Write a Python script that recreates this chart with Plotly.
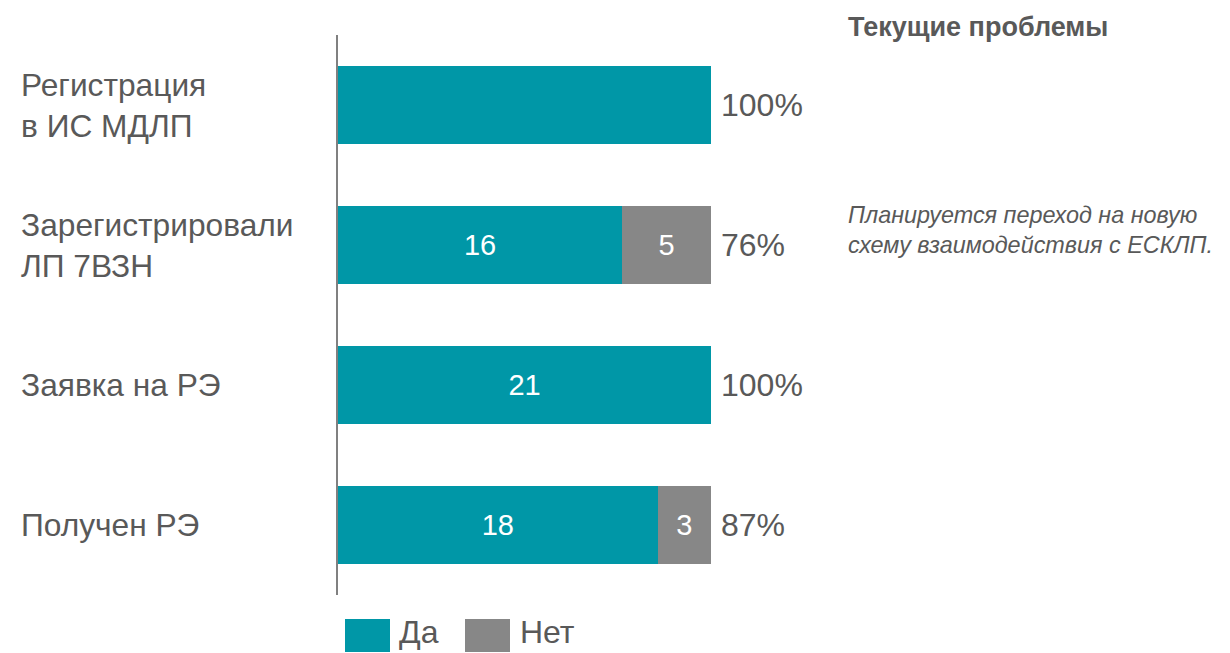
import plotly.graph_objects as go

categories = ["Регистрация<br>в ИС МДЛП", "Зарегистрировали<br>ЛП 7ВЗН", "Заявка на РЭ", "Получен РЭ"]
yes_values = [21, 16, 21, 18]
no_values = [0, 5, 0, 3]
yes_text = ["", "16", "21", "18"]
no_text = ["", "5", "", "3"]
pct_labels = ["100%", "76%", "100%", "87%"]
legend_names = ["Да", "Нет"]
side_title = "Текущие проблемы"
side_note = "Планируется переход на новую<br>схему взаимодействия с ЕСКЛП."

TEAL = "#0097A7"
GRAY = "#878787"
TXT = "#595959"
FONT = "Liberation Sans, Arial, sans-serif"

W, H = 1230, 653
ML, MT, MB = 338, 35, 58
PW = 373
MR = W - ML - PW
PH = H - MT - MB

ids = list(range(len(categories)))

fig = go.Figure()
fig.add_trace(go.Bar(
    y=ids, x=yes_values, orientation="h", name=legend_names[0],
    marker=dict(color=TEAL, line=dict(width=0)), width=0.56,
    text=yes_text, textposition="inside", insidetextanchor="middle",
    textfont=dict(color="white", size=29, family=FONT), showlegend=False,
))
fig.add_trace(go.Bar(
    y=ids, x=no_values, orientation="h", name=legend_names[1],
    marker=dict(color=GRAY, line=dict(width=0)), width=0.56,
    text=no_text, textposition="inside", insidetextanchor="middle",
    textfont=dict(color="white", size=29, family=FONT), showlegend=False,
))

annotations = []
for i, (y, n, p) in enumerate(zip(yes_values, no_values, pct_labels)):
    annotations.append(dict(x=y + n, y=i, xref="x", yref="y", text=p, showarrow=False,
                            xanchor="left", xshift=8, font=dict(size=32, color=TXT, family=FONT)))
for i, c in enumerate(categories):
    annotations.append(dict(x=(19 - ML) / PW, y=i, xref="paper", yref="y", text=c, showarrow=False,
                            xanchor="left", align="left", font=dict(size=31.7, color=TXT, family=FONT)))

annotations.append(dict(x=(846 - ML) / PW, y=1 - (27 - MT) / PH, xref="paper", yref="paper",
                        text="<b>" + side_title + "</b>", showarrow=False, xanchor="left", yanchor="middle",
                        font=dict(size=27, color=TXT, family=FONT)))
annotations.append(dict(x=(846 - ML) / PW, y=1, xref="paper", yref="y", yshift=15,
                        text="<i>" + side_note + "</i>", showarrow=False, xanchor="left", align="left",
                        font=dict(size=23.4, color=TXT, family=FONT)))

# legend drawn manually
shapes = []
leg = [(345, 390, TEAL, legend_names[0], 397), (465, 510, GRAY, legend_names[1], 518)]
for x0, x1, col, name, tx in leg:
    shapes.append(dict(type="rect", xref="paper", yref="paper",
                       x0=(x0 - ML) / PW, x1=(x1 - ML) / PW,
                       y0=-(652 - MT - PH) / PH, y1=-(619 - MT - PH) / PH,
                       fillcolor=col, line=dict(width=0)))
    annotations.append(dict(x=(tx - ML) / PW, y=-(653 - MT - PH) / PH, xref="paper", yref="paper",
                            text=name, showarrow=False, xanchor="left", yanchor="bottom", yshift=1,
                            font=dict(size=32, color=TXT, family=FONT)))

fig.update_layout(
    barmode="stack",
    width=W, height=H,
    margin=dict(l=ML, r=MR, t=MT, b=MB, pad=0),
    plot_bgcolor="white", paper_bgcolor="white",
    xaxis=dict(range=[0, 21], visible=False, fixedrange=True),
    yaxis=dict(range=[3.5, -0.5], showticklabels=False, showgrid=False, zeroline=False,
               showline=True, linecolor="#808080", linewidth=1.5, ticks="", fixedrange=True),
    annotations=annotations, shapes=shapes,
    showlegend=False,
)

fig.write_html("out.html", config={"displayModeBar": False},
               post_script="document.body.style.margin='0';document.body.style.overflow='hidden';")
